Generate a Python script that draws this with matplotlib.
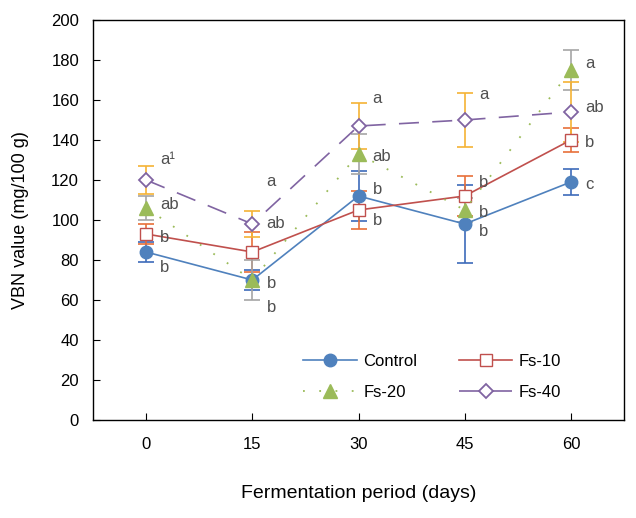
import matplotlib
matplotlib.use("Agg")
import matplotlib.pyplot as plt

plt.rcParams['font.family'] = ['Liberation Sans', 'DejaVu Sans']

days = [0, 15, 30, 45, 60]

control = [84, 70, 112, 98, 119]
control_err = [5, 5, 12.5, 19.5, 6.5]
fs10 = [93, 84, 105, 112, 140]
fs10_err = [5, 10, 9.5, 10, 6]
fs20 = [106, 70, 133, 105, 175]
fs20_err = [6, 10, 10, 6, 10]
fs40 = [120, 98, 147, 150, 154]
fs40_err = [7, 6.5, 11.5, 13.5, 15]

# significance letters per day (top to bottom) and their heights
letters = [
    ["a¹", "ab", "b", "b"],
    ["a", "ab", "b", "b"],
    ["a", "ab", "b", "b"],
    ["a", "b", "b", "b"],
    ["a", "ab", "b", "c"],
]
letter_y = [
    [130, 107.5, 91.5, 76],
    [119, 98, 68, 56.5],
    [160.5, 131.5, 115, 99.5],
    [162.5, 118.5, 103.5, 94],
    [178, 156, 138.5, 117.5],
]

fig = plt.figure(figsize=(6.36, 5.18), dpi=100)
ax = fig.add_axes([93 / 636, 98 / 518, 531 / 636, 400 / 518])

series = [
    ("Control", control, control_err, dict(color="#4F81BD", marker="o", ms=9, mfc="#4F81BD",
                                            mec="#4F81BD", ls="-", lw=1.2), "#3D6BBA"),
    ("Fs-10", fs10, fs10_err, dict(color="#C0504D", marker="s", ms=9, mfc="white",
                                   mec="#C0504D", ls="-", lw=1.2), "#E8703A"),
    ("Fs-20", fs20, fs20_err, dict(color="#9BBB59", marker="^", ms=10, mfc="#9BBB59",
                                   mec="#9BBB59", ls=(0, (1, 8)), lw=1.3), "#A5A5A5"),
    ("Fs-40", fs40, fs40_err, dict(color="#8064A2", marker="D", ms=7, mfc="white",
                                   mec="#8064A2", mew=1.3, ls=(0, (12, 8)), lw=1.2), "#F5B335"),
]

for name, vals, errs, style, ecol in series:
    ax.errorbar(days, vals, yerr=errs, fmt="none", ecolor=ecol, elinewidth=1.2,
                capsize=6, capthick=1.2, zorder=2)
handles = {}
for name, vals, errs, style, ecol in series:
    handles[name], = ax.plot(days, vals, label=name, zorder=3, **style)

for d, labs, ys in zip(days, letters, letter_y):
    for lab, y in zip(labs, ys):
        ax.text(d + 2.0, y, lab, ha="left", va="center", fontsize=12, color="#505050")

ax.set_xlim(-7.5, 67.5)
ax.set_ylim(0, 200)
ax.set_xticks(days)
ax.set_yticks(range(0, 201, 20))
ax.tick_params(direction="in", length=5, labelsize=12, pad=12)
ax.tick_params(axis="y", pad=10)
for s in ax.spines.values():
    s.set_linewidth(1.0)
    s.set_color("black")

ax.set_xlabel("Fermentation period (days)", fontsize=14, labelpad=24)
ax.set_ylabel("VBN value (mg/100 g)", fontsize=13, labelpad=16)

# matplotlib fills legend columns first, so interleave to get row order
order = ["Control", "Fs-20", "Fs-10", "Fs-40"]
ax.legend([handles[n] for n in order], order, ncol=2, loc="lower right",
          bbox_to_anchor=(0.91, 0.012), frameon=False, fontsize=12, handlelength=3.2,
          columnspacing=2.5, handletextpad=0.4, labelspacing=1.0)

fig.savefig("out.png", dpi=100)
